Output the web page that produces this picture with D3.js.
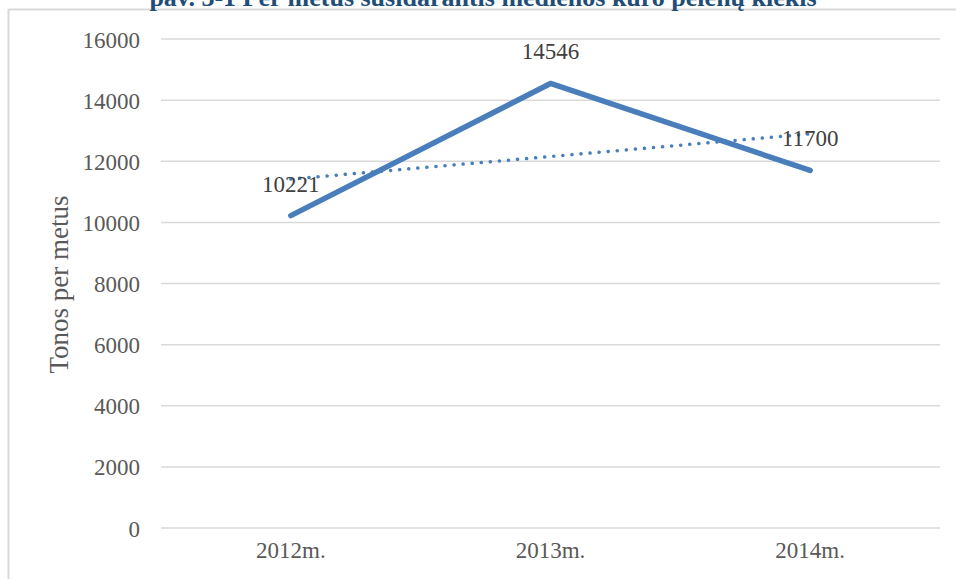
<!DOCTYPE html>
<html>
<head>
<meta charset="utf-8">
<script src="https://cdn.jsdelivr.net/npm/d3@7"></script>
<style>
  body { margin: 0; background: #fff; }
  svg { display: block; }
</style>
</head>
<body>
<div class="chart"></div>
<script>
const categories = ["2012m.", "2013m.", "2014m."]
const values = [10221, 14546, 11700]
// linear trend
const trendValues = [11416, 12156, 12896]
const yTicks = [0, 2000, 4000, 6000, 8000, 10000, 12000, 14000, 16000]
const titleText = "pav. 3-1 Per metus susidarantis medienos kuro pelenų kiekis"
const yLabel = "Tonos per metus"

const W = 956, H = 579
const margin = {left: 161, right: 16, top: 39, bottom: 51}
const width = W - margin.left - margin.right
const height = H - margin.top - margin.bottom
const font = "'Liberation Serif', 'DejaVu Serif', serif"
const blue = "#4a7ebb"

const svg = d3.select(".chart").append("svg")
	.attr("width", W)
	.attr("height", H)

// frame lines (top and left)
svg.append("line").attr("x1", 8.5).attr("x2", W).attr("y1", 9.5).attr("y2", 9.5)
	.attr("stroke", "#d9d9d9").attr("stroke-width", 2)
svg.append("line").attr("x1", 8.5).attr("x2", 8.5).attr("y1", 9).attr("y2", H)
	.attr("stroke", "#d9d9d9").attr("stroke-width", 2)

// title, cut by the top edge as in the source page
svg.append("text")
	.attr("x", 483).attr("y", 6)
	.attr("text-anchor", "middle")
	.attr("font-family", font)
	.attr("font-weight", "bold")
	.attr("font-size", "26px")
	.attr("fill", "#1f4e79")
	.text(titleText)

const g = svg.append("g")
	.attr("transform", "translate(" + margin.left + "," + margin.top + ")")

const xScale = d3.scaleBand().domain(categories).range([0, width])
const yScale = d3.scaleLinear().domain([0, 16000]).range([height, 0])

// gridlines
g.append("g")
	.selectAll("line")
	.data(yTicks)
	.enter()
	.append("line")
	.attr("x1", 0).attr("x2", width)
	.attr("y1", d => yScale(d)).attr("y2", d => yScale(d))
	.attr("stroke", "#d9d9d9").attr("stroke-width", 1.5)

const yAxis = g.append("g")
	.call(d3.axisLeft(yScale).tickValues(yTicks).tickFormat(d3.format("d")).tickSize(0).tickPadding(21))
yAxis.select(".domain").remove()
yAxis.selectAll("text")
	.attr("font-family", font).attr("font-size", "23px").attr("fill", "#595959")
	.attr("dy", "0.35em")

const xAxis = g.append("g")
	.attr("transform", "translate(0," + height + ")")
	.call(d3.axisBottom(xScale).tickSize(0).tickPadding(14))
xAxis.select(".domain").remove()
xAxis.selectAll("text")
	.attr("font-family", font).attr("font-size", "23px").attr("fill", "#595959")

// y title
g.append("text")
	.attr("transform", "rotate(-90)")
	.attr("x", -(height / 2) - 1)
	.attr("y", -93)
	.attr("text-anchor", "middle")
	.attr("font-family", font).attr("font-size", "27px").attr("fill", "#595959")
	.text(yLabel)

const cx = d => xScale(d) + xScale.bandwidth() / 2

// trend line (dotted)
g.append("path")
	.datum(trendValues)
	.attr("fill", "none")
	.attr("stroke", blue)
	.attr("stroke-width", 3.5)
	.attr("stroke-linecap", "round")
	.attr("stroke-dasharray", "0.1 9")
	.attr("d", d3.line().x((d, i) => cx(categories[i])).y(d => yScale(d)))

// data line
g.append("path")
	.datum(values)
	.attr("fill", "none")
	.attr("stroke", blue)
	.attr("stroke-width", 5.5)
	.attr("stroke-linecap", "round")
	.attr("stroke-linejoin", "round")
	.attr("d", d3.line().x((d, i) => cx(categories[i])).y(d => yScale(d)))

// value labels
g.selectAll(".vlabel")
	.data(values)
	.enter()
	.append("text")
	.attr("class", "vlabel")
	.attr("x", (d, i) => cx(categories[i]))
	.attr("y", d => yScale(d) - 24)
	.attr("text-anchor", "middle")
	.attr("font-family", font).attr("font-size", "23px").attr("fill", "#404040")
	.text(d => d)
</script>
</body>
</html>
